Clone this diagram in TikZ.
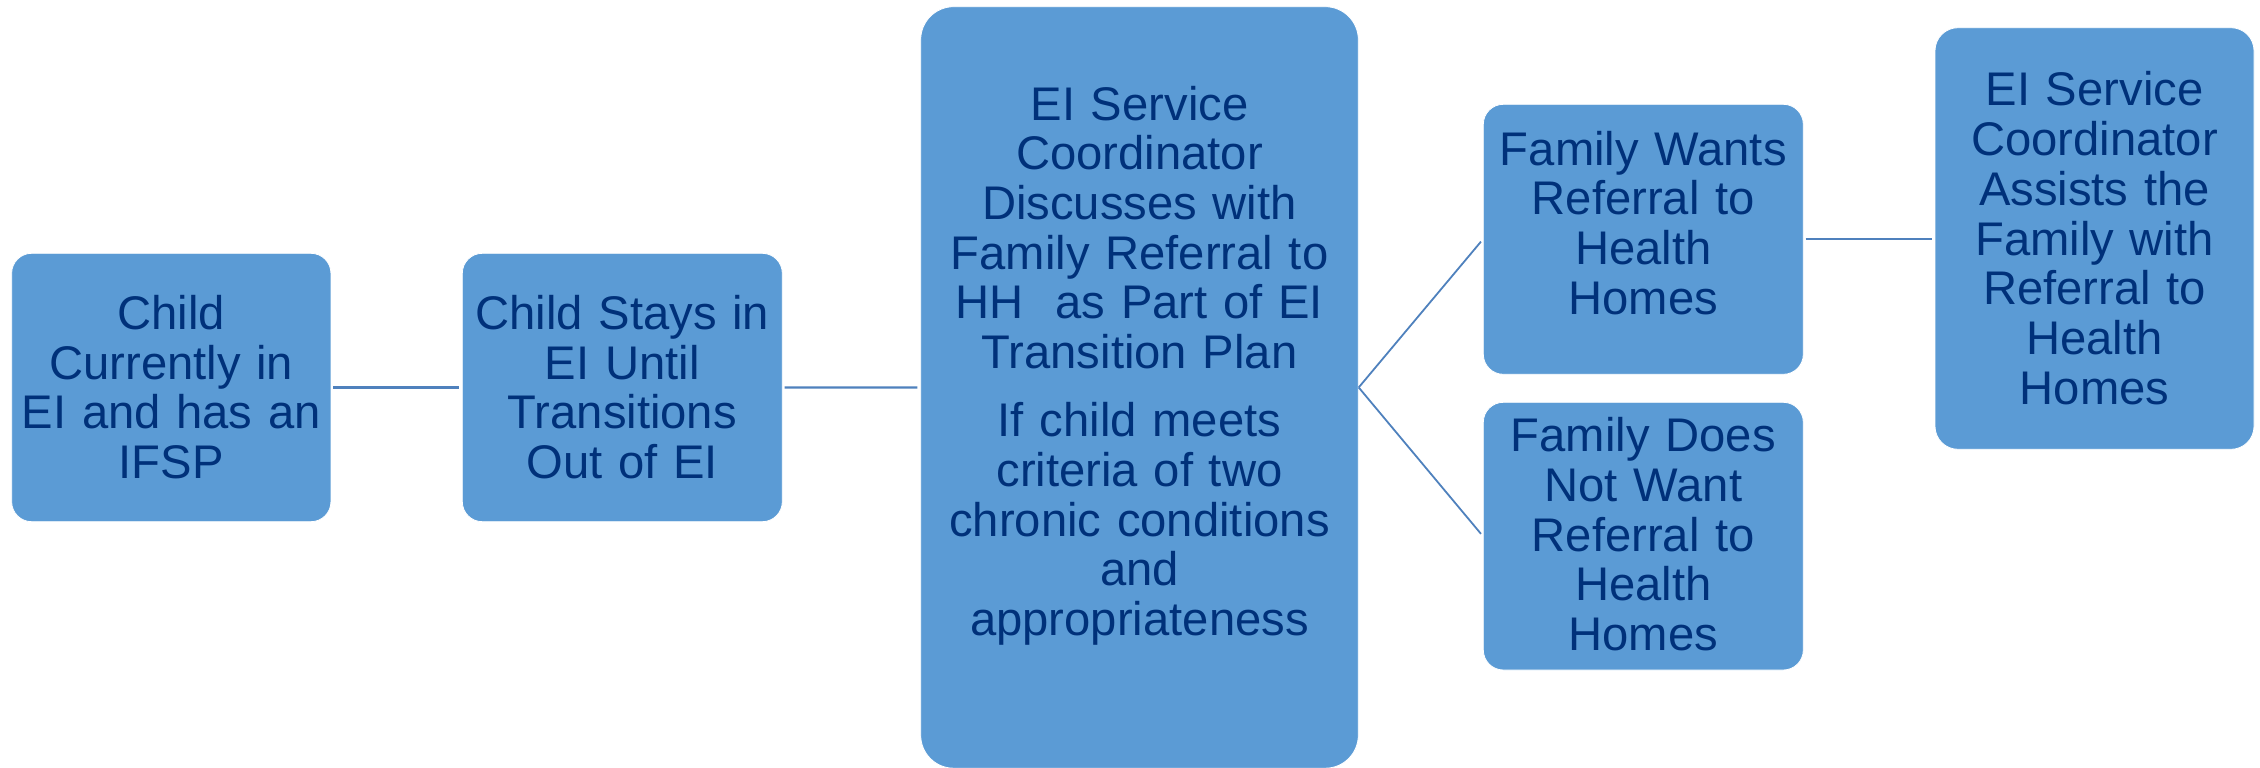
\documentclass[tikz,border=0pt]{standalone}
\usepackage{fontspec}
\setmainfont{Liberation Sans}
\definecolor{boxblue}{HTML}{5B9BD5}
\definecolor{textblue}{HTML}{00317A}
\definecolor{lineblue}{HTML}{4F81BD}
\tikzset{
  box/.style={fill=boxblue, draw=white, line width=0.8pt, inner sep=0pt, minimum width=320pt},
  txt/.style={text=textblue, align=center, text width=440pt, anchor=base, inner sep=0pt,
              font=\fontsize{47.2}{49.7}\selectfont},
  conn/.style={draw=lineblue, line width=2.2pt, shorten <=2pt, shorten >=3pt},
  diag/.style={draw=lineblue, line width=1.8pt, shorten >=3pt}
}
\begin{document}
\begin{tikzpicture}[x=1pt,y=-1pt]
\useasboundingbox (0,0) rectangle (2260,768);
% boxes
\node[box, minimum width=319.3pt, minimum height=268.4pt, rounded corners=20pt] (b1) at (171.3,387.5) {};
\node[box, minimum height=268.4pt, rounded corners=20pt] (b2) at (622.3,387.5) {};
\node[box, minimum width=437.6pt, minimum height=761.5pt, rounded corners=33pt] (b3) at (1139.5,387.45) {};
\node[box, minimum height=270pt, rounded corners=20pt] (b4) at (1643.3,239.3) {};
\node[box, minimum height=267.7pt, rounded corners=20pt] (b5) at (1643.3,536.15) {};
\node[box, minimum width=319pt, minimum height=421.6pt, rounded corners=23pt] (b6) at (2094.5,238.5) {};
% texts
\node[txt] (t1) at (171.3,329.3) {Child\\Currently in\\EI and has an\\IFSP};
\node[txt] (t2) at (622.3,329.3) {Child Stays in\\EI Until\\Transitions\\Out of EI};
\node[txt] (t3) at (1139.5,120) {EI Service\\Coordinator\\Discusses with\\Family Referral to\\HH\ \ as Part of EI\\Transition Plan\\[18.6pt]If child meets\\criteria of two\\chronic conditions\\and\\appropriateness};
\node[txt] (t4) at (1643.3,165) {Family Wants\\Referral to\\Health\\Homes};
\node[txt] (t5) at (1643.3,451.7) {Family Does\\Not Want\\Referral to\\Health\\Homes};
\node[txt] (t6) at (2094.5,106) {EI Service\\Coordinator\\Assists the\\Family with\\Referral to\\Health\\Homes};
% connectors
\draw[conn] (b1.east) -- (b2.west);
\draw[conn] (b2.east) -- (b3.west);
\draw[diag] (b3.east) -- (b4.west);
\draw[diag] (b3.east) -- (b5.west);
\draw[conn] (b4.east) -- (b4.east -| b6.west);
\end{tikzpicture}
\end{document}
